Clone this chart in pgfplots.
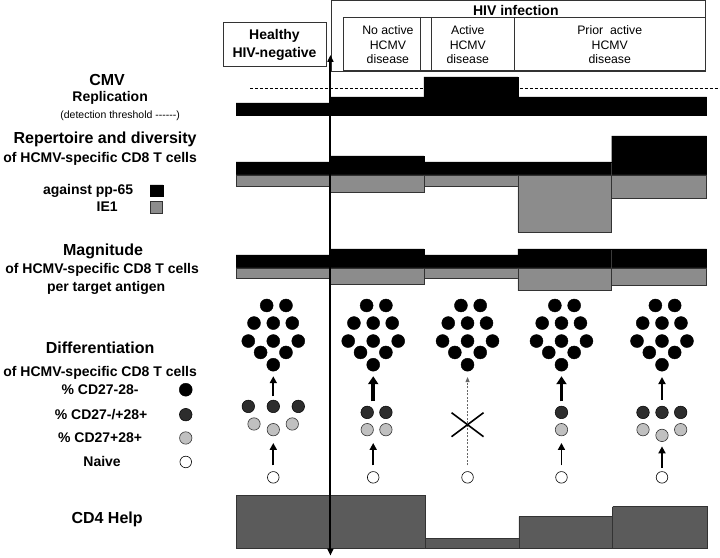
\documentclass[border=0pt]{standalone}
\usepackage{fontspec}
\setmainfont{Liberation Sans}
\usepackage{pgfplots}
\pgfplotsset{compat=1.18}
\usetikzlibrary{arrows.meta}
\definecolor{barg}{HTML}{8C8C8C}
\definecolor{cdf}{HTML}{5B5B5B}
\definecolor{dkc}{HTML}{2D2D2D}
\definecolor{ltc}{HTML}{C0C0C0}
\definecolor{edge}{HTML}{333333}
\newcommand{\hd}{\fontsize{16}{18}\selectfont\bfseries}
\newcommand{\sh}{\fontsize{14}{16}\selectfont\bfseries}
\newcommand{\bx}{\fontsize{12.3}{15}\selectfont}
\pgfplotsset{
  blk/.style={fill=black, draw=black, line width=.4pt},
  gry/.style={fill=barg, draw=edge, line width=.6pt},
  cd4/.style={fill=cdf, draw=edge, line width=.6pt},
  frame/.style={draw=edge, line width=.8pt},
  arr/.style={draw=black, line width=1.8pt, -{Triangle[length=7pt,width=7pt]}},
  arrb/.style={draw=black, line width=3.6pt, -{Triangle[length=8pt,width=10pt]}},
  dots/.style={only marks, mark=*, mark size=6.5pt, mark options={fill=black, draw=black}},
}
\begin{document}
\begin{tikzpicture}
\begin{axis}[
  scale only axis, width=720pt, height=558pt,
  xmin=0, xmax=720, ymin=0, ymax=558, y dir=reverse,
  enlargelimits=false, hide axis, clip=false,
]
\addplot[draw=none] coordinates {(0,0) (720,558)};

% header boxes
\addplot[frame] coordinates {(331,71) (331,0.5) (706,0.5) (706,71) (331,71)};
\addplot[frame] coordinates {(343,17) (706,17) (706,70) (343,70) (343,17)};
\addplot[frame] coordinates {(421,17) (421,70)};
\addplot[frame] coordinates {(432,17) (432,70)};
\addplot[frame] coordinates {(515,17) (515,70)};
\addplot[frame] coordinates {(223,22) (326,22) (326,66) (223,66) (223,22)};
\node[anchor=base, font=\sh] at (axis cs:516,16) {HIV infection};
\node[anchor=base, font=\sh] at (axis cs:274.5,40) {Healthy};
\node[anchor=base, font=\sh] at (axis cs:274.5,58) {HIV-negative};
\node[anchor=base, font=\bx] at (axis cs:388,34.5) {No active};
\node[anchor=base, font=\bx] at (axis cs:388,49.5) {HCMV};
\node[anchor=base, font=\bx] at (axis cs:388,64) {disease};
\node[anchor=base, font=\bx] at (axis cs:468,34.5) {Active};
\node[anchor=base, font=\bx] at (axis cs:468,49.5) {HCMV};
\node[anchor=base, font=\bx] at (axis cs:468,64) {disease};
\node[anchor=base, font=\bx] at (axis cs:610,34.5) {Prior\ \ active};
\node[anchor=base, font=\bx] at (axis cs:610,49.5) {HCMV};
\node[anchor=base, font=\bx] at (axis cs:610,64) {disease};

% CMV replication
\addplot[draw=black, line width=.7pt, dash pattern=on 3pt off 2pt] coordinates {(250,88) (720,88)};
\addplot[blk] coordinates {(236,103) (330,103) (330,115) (236,115) (236,103)};
\addplot[blk] coordinates {(330,97) (424,97) (424,115) (330,115) (330,97)};
\addplot[blk] coordinates {(424,77) (518,77) (518,115) (424,115) (424,77)};
\addplot[blk] coordinates {(518,97) (707,97) (707,115) (518,115) (518,97)};
\node[anchor=base, font=\hd] at (axis cs:107,86) {CMV};
\node[anchor=base, font=\sh] at (axis cs:110,102) {Replication};
\node[anchor=base west, inner sep=0pt, font=\fontsize{10.5}{12}\selectfont] at (axis cs:60,119) {(detection threshold\ {-}{-}{-}{-}{-}{-})};

% repertoire and diversity
\addplot[blk] coordinates {(236,162) (330,162) (330,175) (236,175) (236,162)};
\addplot[gry] coordinates {(236,175) (330,175) (330,186) (236,186) (236,175)};
\addplot[blk] coordinates {(330,156) (424,156) (424,175) (330,175) (330,156)};
\addplot[gry] coordinates {(330,175) (424,175) (424,192) (330,192) (330,175)};
\addplot[blk] coordinates {(424,162) (518,162) (518,175) (424,175) (424,162)};
\addplot[gry] coordinates {(424,175) (518,175) (518,186) (424,186) (424,175)};
\addplot[blk] coordinates {(518,162) (612,162) (612,175) (518,175) (518,162)};
\addplot[gry] coordinates {(518,175) (612,175) (612,232) (518,232) (518,175)};
\addplot[blk] coordinates {(612,136) (707,136) (707,175) (612,175) (612,136)};
\addplot[gry] coordinates {(612,175) (707,175) (707,198) (612,198) (612,175)};
\node[anchor=base, font=\hd] at (axis cs:105,144) {Repertoire and diversity};
\node[anchor=base, font=\sh] at (axis cs:100,163) {of HCMV-specific CD8 T cells};
\node[anchor=base, font=\sh] at (axis cs:88,195) {against pp-65};
\node[anchor=base, font=\sh] at (axis cs:107,212) {IE1};
\addplot[blk] coordinates {(150,185) (162.7,185) (162.7,196) (150,196) (150,185)};
\addplot[gry] coordinates {(150,201.7) (162.7,201.7) (162.7,213.3) (150,213.3) (150,201.7)};

% magnitude
\addplot[blk] coordinates {(236,255) (330,255) (330,268) (236,268) (236,255)};
\addplot[gry] coordinates {(236,268) (330,268) (330,279) (236,279) (236,268)};
\addplot[blk] coordinates {(330,249) (424,249) (424,268) (330,268) (330,249)};
\addplot[gry] coordinates {(330,268) (424,268) (424,285) (330,285) (330,268)};
\addplot[blk] coordinates {(424,255) (518,255) (518,268) (424,268) (424,255)};
\addplot[gry] coordinates {(424,268) (518,268) (518,279) (424,279) (424,268)};
\addplot[blk] coordinates {(518,249) (612,249) (612,268) (518,268) (518,249)};
\addplot[gry] coordinates {(518,268) (612,268) (612,291) (518,291) (518,268)};
\addplot[blk] coordinates {(612,249) (707,249) (707,268) (612,268) (612,249)};
\addplot[gry] coordinates {(612,268) (707,268) (707,286) (612,286) (612,268)};
\node[anchor=base, font=\hd] at (axis cs:103,256) {Magnitude};
\node[anchor=base, font=\sh] at (axis cs:102,274) {of HCMV-specific CD8 T cells};
\node[anchor=base, font=\sh] at (axis cs:106,292) {per target antigen};

% differentiation
\addplot[dots] coordinates {
 (266.7,305.7) (286,305.7) (254,323.3) (273.3,323.3) (292.3,323.3) (248.3,341.3) (273.3,341.3) (298.3,341.3) (260.6,352.7) (286,352.7) (273.3,365)
 (366.7,305.7) (386,305.7) (354,323.3) (373.3,323.3) (392.3,323.3) (348.3,341.3) (373.3,341.3) (398.3,341.3) (360.6,352.7) (386,352.7) (373.3,365)
 (461.1,305.7) (480.4,305.7) (448.4,323.3) (467.7,323.3) (486.7,323.3) (442.7,341.3) (467.7,341.3) (492.7,341.3) (455,352.7) (480.4,352.7) (467.7,365)
 (555.1,305.7) (574.4,305.7) (542.4,323.3) (561.7,323.3) (580.7,323.3) (536.7,341.3) (561.7,341.3) (586.7,341.3) (549,352.7) (574.4,352.7) (561.7,365)
 (655.7,305.7) (675,305.7) (643,323.3) (662.3,323.3) (681.3,323.3) (637.3,341.3) (662.3,341.3) (687.3,341.3) (649.6,352.7) (675,352.7) (662.3,365)
 (185.7,390)};
\addplot[dots, mark size=6.3pt, mark options={fill=dkc, draw=black, line width=.5pt}] coordinates {
 (248.3,406.7) (273.3,406.7) (298.3,406.7) (367.3,412.7) (386,412.7) (561.7,412.7)
 (643.3,412.7) (662.3,412.7) (681,412.7) (185.7,415)};
\addplot[dots, mark size=6.2pt, mark options={fill=ltc, draw=edge, line width=.6pt}] coordinates {
 (254,424.3) (273.3,430) (292.3,424.3) (367.3,430) (386,430) (561.7,430)
 (643.3,430) (662.3,435.7) (681,430) (185.7,438.3)};
\addplot[dots, mark size=5.8pt, mark options={fill=white, draw=black, line width=.6pt}] coordinates {
 (273.3,477.7) (373.3,477.7) (467.7,477.7) (561.7,477.7) (662.3,477.7) (185.7,462.3)};
\addplot[arr] coordinates {(273.3,396.7) (273.3,376.5)};
\addplot[arr] coordinates {(273.3,465.7) (273.3,443.3)};
\addplot[arrb] coordinates {(373.3,401.7) (373.3,376.5)};
\addplot[arr] coordinates {(373.3,465.7) (373.3,443.3)};
\addplot[draw=black!60, line width=.8pt, dash pattern=on 2pt off 1.5pt, -{Triangle[length=5pt,width=4pt]}] coordinates {(467.7,465.7) (467.7,377.3)};
\addplot[draw=black, line width=1.6pt] coordinates {(451.7,413) (483.7,437)};
\addplot[draw=black, line width=1.6pt] coordinates {(451.7,437) (483.7,413)};
\addplot[arrb] coordinates {(561.7,401.7) (561.7,376.5)};
\addplot[arr] coordinates {(561.7,465.7) (561.7,443.3)};
\addplot[arr] coordinates {(662.3,400) (662.3,377.3)};
\addplot[arr] coordinates {(662.3,468.3) (662.3,446.7)};
\node[anchor=base, font=\hd] at (axis cs:100,354) {Differentiation};
\node[anchor=base, font=\sh] at (axis cs:100,377) {of HCMV-specific CD8 T cells};
\node[anchor=base, font=\sh] at (axis cs:100,395) {\% CD27-28-};
\node[anchor=base, font=\sh] at (axis cs:101,420) {\% CD27-/+28+};
\node[anchor=base, font=\sh] at (axis cs:100,443) {\% CD27+28+};
\node[anchor=base, font=\sh] at (axis cs:102,467) {Naive};

% CD4 help
\addplot[cd4] coordinates {(236,496) (425,496) (425,549) (236,549) (236,496)};
\addplot[cd4] coordinates {(425,539) (519,539) (519,549) (425,549) (425,539)};
\addplot[cd4] coordinates {(519,517) (613,517) (613,549) (519,549) (519,517)};
\addplot[cd4] coordinates {(613,507) (708,507) (708,549) (613,549) (613,507)};
\node[anchor=base, font=\hd] at (axis cs:107,524) {CD4 Help};

% HIV divide
\addplot[draw=black, line width=2pt, {Triangle[length=7pt,width=6pt]}-{Triangle[length=7pt,width=6pt]}] coordinates {(330.5,55) (330.5,556)};
\end{axis}
\end{tikzpicture}
\end{document}
